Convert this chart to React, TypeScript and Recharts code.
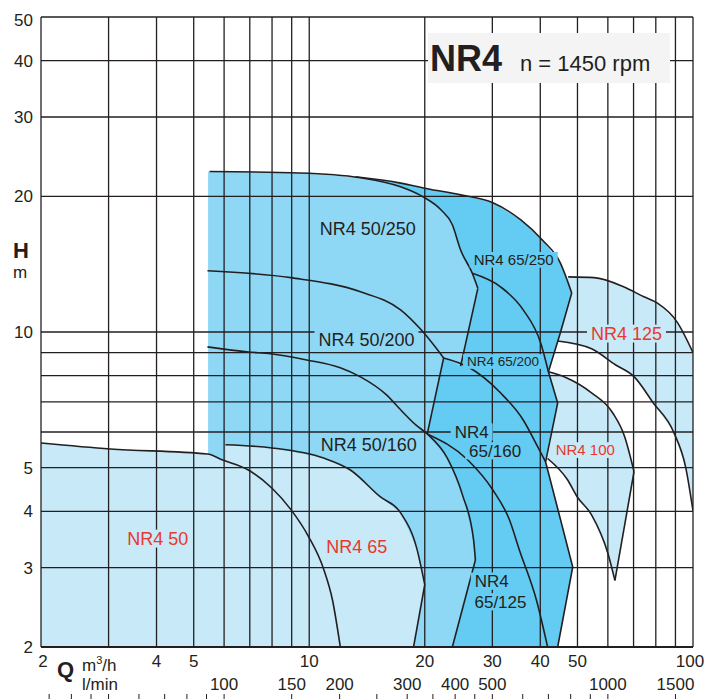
import React from 'react'
import { ComposedChart, Scatter, XAxis, YAxis, CartesianGrid, ReferenceLine, Curve } from 'recharts'

// axis ticks (Q in m3/h, H in m)
const qTicks = [2, 3, 4, 5, 6, 7, 8, 9, 10, 20, 30, 40, 50, 60, 70, 80, 90, 100]
const qLabels = [2, 4, 5, 10, 20, 30, 40, 50, 100]
const lminTicks = [35, 40, 45, 50, 60, 70, 80, 90, 100, 150, 200, 250, 300, 350, 400, 450, 500, 600, 700, 800, 900, 1000, 1500]
const lminLabels = [100, 150, 200, 300, 400, 500, 1000, 1500]
const hTicks = [2, 3, 4, 5, 6, 7, 8, 9, 10, 20, 30, 40, 50]
const hLabels = [2, 3, 4, 5, 10, 20, 30, 40, 50]

// filled ranges, points as [Q, H]
const range50 = [[2, 5.67], [3.03, 5.5], [5.43, 5.36], [5.95, 5.2], [6.94, 4.94], [8.0, 4.5], [8.95, 4.04], [9.95, 3.52], [10.9, 2.98], [11.5, 2.54], [12.05, 2], [2, 2]]
const range65 = [[6.05, 5.62], [8, 5.53], [10.9, 5.25], [12.8, 4.94], [15.3, 4.31], [17.3, 3.97], [19.1, 3.29], [20.0, 2.75], [18.7, 2], [6.05, 2]]
const range50x = [[5.45, 2], [5.45, 22.7], [9.45, 22.54], [13.6, 22.0], [17.3, 21.0], [19.7, 20.0], [22.0, 18.7], [23.6, 17.3], [24.8, 15.2], [26.6, 13.5], [27.5, 12.5], [24.8, 8.4], [22.4, 8.76], [20.3, 5.94], [22.9, 5.25], [25.1, 4.34], [26.8, 3.46], [27.1, 3.12], [23.6, 2]]
const range65x = [[13.2, 22.1], [17.3, 21.4], [20.3, 20.8], [24.8, 20.15], [30.1, 19.35], [35.6, 17.73], [40.5, 16.0], [45.1, 14.24], [48.3, 12.21], [45.1, 9.95], [42.0, 8.16], [44.4, 6.96], [41.3, 5.15], [48.6, 3.01], [44.4, 2], [22, 2], [17.3, 11]]
const range125 = [[47.3, 13.25], [55.2, 13.2], [65.9, 12.6], [74.5, 11.97], [80.6, 11.6], [91.2, 10.48], [100, 9.0], [100, 4.01], [95.8, 4.99], [89, 6.0], [78.8, 6.96], [70.2, 7.96], [62.9, 8.45], [54.4, 9.18], [44.4, 9.55]]
const range100 = [[42, 8.16], [46.6, 7.93], [54.4, 7.33], [61.8, 6.61], [66.4, 5.85], [70.2, 4.9], [62.6, 2.81], [60, 3.23], [54.4, 3.93], [49.9, 4.31], [47.1, 4.7], [41.8, 5.24], [44.4, 6.96]]

// pump curves (smooth) and straight envelope edges
const curve50 = [[2, 5.67], [3.03, 5.5], [5.43, 5.36], [5.95, 5.2], [6.94, 4.94], [8.0, 4.5], [8.95, 4.04], [9.95, 3.52], [10.9, 2.98], [11.5, 2.54], [12.05, 2]]
const curve65 = [[6.05, 5.62], [8, 5.53], [10.9, 5.25], [12.8, 4.94], [15.3, 4.31], [17.3, 3.97], [19.1, 3.29], [20.0, 2.75]]
const curve50_250 = [[5.5, 22.7], [9.45, 22.54], [13.6, 22.0], [17.3, 21.0], [19.7, 20.0], [22.0, 18.7], [23.6, 17.3], [24.8, 15.2], [26.6, 13.5], [27.5, 12.5]]
const curve50_200 = [[5.43, 13.67], [8.95, 13.2], [13.6, 12.28], [17.3, 11.2], [19.6, 10.1], [22.4, 8.76]]
const curve50_160 = [[5.43, 9.27], [6.95, 9.03], [7.93, 8.95], [9.85, 8.67], [12.05, 8.33], [13.6, 7.95], [15.9, 7.25], [17.3, 6.72], [18.95, 6.22], [20.3, 5.94], [22.9, 5.25], [25.1, 4.34], [26.8, 3.46], [27.1, 3.12]]
const curve65_250 = [[13.2, 22.1], [17.3, 21.4], [20.3, 20.8], [24.8, 20.15], [30.1, 19.35], [35.6, 17.73], [40.5, 16.0], [45.1, 14.24], [48.3, 12.21]]
const curve65_200 = [[26.6, 13.5], [31.5, 12.6], [36.1, 11.2], [40.1, 9.45], [42.0, 8.16]]
const curve65_160 = [[22.4, 8.76], [25.9, 8.37], [31.5, 7.33], [36.1, 6.38], [39.4, 5.56], [41.3, 5.15]]
const curve65_125 = [[20.3, 5.94], [25.9, 5.2], [30.1, 4.46], [33.2, 3.84], [35.3, 3.28], [39.1, 2.54], [41.8, 2]]
const curve125Top = [[47.3, 13.25], [55.2, 13.2], [65.9, 12.6], [74.5, 11.97], [80.6, 11.6], [91.2, 10.48], [100, 9.0]]
const curve125Low = [[44.4, 9.55], [54.4, 9.18], [62.9, 8.45], [70.2, 7.96], [78.8, 6.96], [89, 6.0], [95.8, 4.99], [100, 4.01]]
const curve100Top = [[42, 8.16], [46.6, 7.93], [54.4, 7.33], [61.8, 6.61], [66.4, 5.85], [70.2, 4.9]]
const curve100Low = [[41.8, 5.24], [47.1, 4.7], [49.9, 4.31], [54.4, 3.93], [60, 3.23], [62.6, 2.81]]
const edges = [
  [[20.0, 2.75], [18.7, 2]],
  [[27.5, 12.5], [24.8, 8.4]],
  [[22.4, 8.76], [20.3, 5.94]],
  [[27.1, 3.12], [23.6, 2]],
  [[48.3, 12.21], [45.1, 9.95], [42.0, 8.16], [44.4, 6.96], [41.3, 5.15], [48.6, 3.01], [44.4, 2]],
  [[70.2, 4.9], [62.6, 2.81]],
]

const labels = [
  { text: 'NR4 50/250', q: 14.2, h: 17.0, kind: 'mid' },
  { text: 'NR4 65/250', q: 34.1, h: 14.46, kind: 'dark15' },
  { text: 'NR4 50/200', q: 14.1, h: 9.6, kind: 'mid' },
  { text: 'NR4 65/200', q: 32, h: 8.6, kind: 'dark13' },
  { text: 'NR4', q: 26.5, h: 6.0, kind: 'dark' },
  { text: '65/160', q: 30.5, h: 5.45, kind: 'dark' },
  { text: 'NR4 50/160', q: 14.3, h: 5.62, kind: 'mid' },
  { text: 'NR4 125', q: 67.1, h: 9.92, kind: 'red' },
  { text: 'NR4 100', q: 52.4, h: 5.47, kind: 'red15' },
  { text: 'NR4 50', q: 4.03, h: 3.48, kind: 'red' },
  { text: 'NR4 65', q: 13.3, h: 3.34, kind: 'red' },
  { text: 'NR4', q: 29.9, h: 2.8, kind: 'dark' },
  { text: '65/125', q: 31.5, h: 2.52, kind: 'dark' },
]

const INK = '#231f20'
const RED = '#e8392b'
const LIGHT = '#c8e9f8'
const MID = '#8fd8f5'
const DARK = '#64cbf2'
const FONT = '"Liberation Sans", Arial, Helvetica, sans-serif'
const LMIN_PER_M3H = 1000 / 60

const labelLook = {
  mid: { size: 18, color: INK, bg: MID },
  dark: { size: 17, color: INK, bg: DARK },
  dark15: { size: 15, color: INK, bg: DARK },
  dark13: { size: 13.5, color: INK, bg: DARK },
  red: { size: 18, color: RED, bg: LIGHT },
  red15: { size: 15, color: RED, bg: LIGHT },
}

const toPts = (rows) => rows.map(([q, h]) => ({ q, h }))
const near = (list, v) => list.some((t) => Math.abs(t - Number(v)) < 0.005 * t)

// both scales live on the one Q axis: m3/h ticks plus the l/min ticks converted to m3/h
const axisTicks = [
  ...qTicks,
  ...lminTicks.map((l) => l / LMIN_PER_M3H).filter((v) => !near(qTicks, v)),
].sort((a, b) => a - b)

const textWidth = (s, size) => {
  let w = 0
  for (const c of s) w += c === 'N' || c === 'R' ? 0.722 : c === ' ' || c === '/' ? 0.278 : 0.556
  return w * size
}

const noDot = () => <g />

const fillRange = (color) => (p) => {
  const d = p.points.map((pt, i) => `${i ? 'L' : 'M'}${pt.x},${pt.y}`).join(' ') + ' Z'
  return <path d={d} fill={color} stroke="none" />
}

const strokeCurve = (type) => (p) => (
  <Curve points={p.points} type={type} stroke={INK} strokeWidth={1.6} fill="none" />
)

function LabelMark(props) {
  const { cx, cy, payload } = props
  const st = labelLook[payload.kind]
  const w = textWidth(payload.text, st.size)
  const cap = st.size * 0.716
  return (
    <g>
      <rect x={cx - w / 2 - 4} y={cy - cap / 2 - 2.5} width={w + 8} height={cap + 5} fill={st.bg} />
      <text x={cx} y={cy + cap / 2} textAnchor="middle" fontSize={st.size} fill={st.color} fontFamily={FONT}>
        {payload.text}
      </text>
    </g>
  )
}

function QTick({ x, y, payload }) {
  const v = Number(payload.value)
  const l = v * LMIN_PER_M3H
  const dx = v < 2.05 ? 2 : v > 99 ? -3 : 0
  return (
    <g>
      {near(qLabels, v) ? (
        <text x={x + dx} y={y + 20} textAnchor="middle" fontSize={17} fill={INK} fontFamily={FONT}>
          {Math.round(v)}
        </text>
      ) : null}
      {near(lminTicks, l) ? <line x1={x} x2={x} y1={y + 47} y2={y + 53} stroke={INK} strokeWidth={1} /> : null}
      {near(lminLabels, l) ? (
        <text x={x} y={y + 43} textAnchor="middle" fontSize={17} fill={INK} fontFamily={FONT}>
          {Math.round(l)}
        </text>
      ) : null}
    </g>
  )
}

function HTick({ x, y, payload }) {
  const v = Number(payload.value)
  if (!near(hLabels, v)) return <g />
  const dy = v > 49 ? 3 : 0
  return (
    <text x={x - 8} y={y + 6 + dy} textAnchor="end" fontSize={17} fill={INK} fontFamily={FONT}>
      {Math.round(v)}
    </text>
  )
}

export default function App() {
  const fills = [
    [range125, LIGHT],
    [range100, LIGHT],
    [range65x, DARK],
    [range50x, MID],
    [range50, LIGHT],
    [range65, LIGHT],
  ]
  const smooth = [curve50, curve65, curve50_250, curve50_200, curve50_160, curve65_250, curve65_200, curve65_160, curve65_125, curve125Top, curve125Low, curve100Top, curve100Low]

  return (
    <div style={{ position: 'relative', width: 720, height: 699, background: '#fff' }}>
      <style>{'body{margin:0}'}</style>
      <ComposedChart width={720} height={699} margin={{ top: 17, right: 27, left: 0, bottom: 0 }}>
        <XAxis
          xAxisId="q"
          dataKey="q"
          type="number"
          scale="log"
          domain={[2, 100]}
          allowDataOverflow
          ticks={axisTicks}
          interval={0}
          height={52}
          tickSize={0}
          tickMargin={0}
          tickLine={false}
          axisLine={{ stroke: INK, strokeWidth: 2.2 }}
          tick={QTick}
        />
        <YAxis
          yAxisId="h"
          dataKey="h"
          type="number"
          scale="log"
          domain={[2, 50]}
          allowDataOverflow
          ticks={hTicks}
          interval={0}
          width={41}
          tickSize={0}
          tickMargin={0}
          tickLine={false}
          axisLine={false}
          tick={HTick}
        />
        {fills.map(([rows, color], i) => (
          <Scatter
            key={`f${i}`}
            data={toPts(rows)}
            xAxisId="q"
            yAxisId="h"
            line={fillRange(color)}
            shape={noDot}
            isAnimationActive={false}
            zIndex={100}
          />
        ))}
        <CartesianGrid xAxisId="q" yAxisId="h" vertical={false} stroke={INK} strokeWidth={1.3} zIndex={150} />
        {qTicks.map((v) => (
          <ReferenceLine key={`v${v}`} x={v} xAxisId="q" yAxisId="h" stroke={INK} strokeWidth={1.3} zIndex={150} />
        ))}
        {smooth.map((rows, i) => (
          <Scatter
            key={`s${i}`}
            data={toPts(rows)}
            xAxisId="q"
            yAxisId="h"
            line={strokeCurve('monotoneX')}
            shape={noDot}
            isAnimationActive={false}
            zIndex={300}
          />
        ))}
        {edges.map((rows, i) => (
          <Scatter
            key={`e${i}`}
            data={toPts(rows)}
            xAxisId="q"
            yAxisId="h"
            line={strokeCurve('linear')}
            shape={noDot}
            isAnimationActive={false}
            zIndex={300}
          />
        ))}
        <Scatter data={labels} xAxisId="q" yAxisId="h" shape={LabelMark} isAnimationActive={false} zIndex={400} />
      </ComposedChart>
      <svg width={720} height={699} style={{ position: 'absolute', left: 0, top: 0, pointerEvents: 'none' }} fontFamily={FONT} fill={INK}>
        <rect x={428} y={33} width={242} height={50} fill="#f4f4f4" />
        <text x={430} y={71} fontSize={36} fontWeight="bold">NR4</text>
        <text x={520} y={71} fontSize={22}>n = 1450 rpm</text>
        <text x={13} y={258} fontSize={22} fontWeight="bold">H</text>
        <text x={13} y={278} fontSize={17}>m</text>
        <text x={57} y={677} fontSize={22} fontWeight="bold">Q</text>
        <text x={82} y={671} fontSize={17}>
          m<tspan dy={-7} fontSize={11}>3</tspan>
          <tspan dy={7}>/h</tspan>
        </text>
        <text x={82} y={690} fontSize={17}>l/min</text>
      </svg>
    </div>
  )
}
